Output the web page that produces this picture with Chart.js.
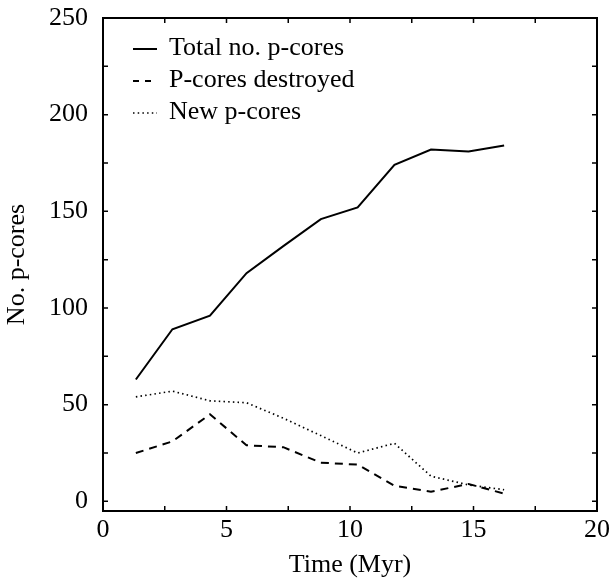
<!DOCTYPE html>
<html>
<head>
<meta charset="utf-8">
<script src="https://cdn.jsdelivr.net/npm/chart.js@4.4.0/dist/chart.umd.min.js"></script>
<style>
  html, body { margin: 0; padding: 0; background: #fff; }
  #wrap { width: 612px; height: 582px; }
</style>
</head>
<body>
<div id="wrap"><canvas id="c" width="612" height="582"></canvas></div>
<script>
const times = [1.33, 2.81, 4.33, 5.81, 7.3, 8.82, 10.31, 11.8, 13.28, 14.8, 16.24];
const totalCores = [63, 89, 96, 118, 132, 146, 152, 174, 182, 181, 184];
const destroyedCores = [25, 31, 45, 29, 28, 20, 19, 8, 5, 9, 4];
const newCores = [54, 57, 52, 51, 43, 34, 25, 30, 13, 8.5, 6];
const seriesLabels = ['Total no. p-cores', 'P-cores destroyed', 'New p-cores'];
const xTicks = [0, 2.5, 5, 7.5, 10, 12.5, 15, 17.5, 20];
const xLabelTicks = [0, 5, 10, 15, 20];
const yTicks = [0, 25, 50, 75, 100, 125, 150, 175, 200, 225, 250];
const yLabelTicks = [0, 50, 100, 150, 200, 250];

const FONT = "'Liberation Serif', 'Times New Roman', serif";
const FS = 26;

function pts(vals) { return times.map((t, i) => ({ x: t, y: vals[i] })); }

const framePlugin = {
  id: 'frame',
  beforeDraw(chart) {
    const ctx = chart.ctx;
    ctx.save();
    ctx.fillStyle = '#fff';
    ctx.fillRect(0, 0, chart.width, chart.height);
    ctx.restore();
  },
  afterDatasetsDraw(chart) {
    const ctx = chart.ctx;
    const a = chart.chartArea;
    const xs = chart.scales.x, ys = chart.scales.y;
    ctx.save();
    ctx.strokeStyle = '#000';
    ctx.lineWidth = 2;
    ctx.setLineDash([]);
    ctx.strokeRect(a.left, a.top, a.right - a.left, a.bottom - a.top);
    const L = 5;
    ctx.lineWidth = 1.5;
    ctx.beginPath();
    xTicks.forEach(v => {
      const px = xs.getPixelForValue(v);
      ctx.moveTo(px, a.bottom); ctx.lineTo(px, a.bottom - L);
      ctx.moveTo(px, a.top); ctx.lineTo(px, a.top + L);
    });
    yTicks.forEach(v => {
      const py = ys.getPixelForValue(v);
      ctx.moveTo(a.left, py); ctx.lineTo(a.left + L, py);
      ctx.moveTo(a.right, py); ctx.lineTo(a.right - L, py);
    });
    ctx.stroke();

    // legend inside plot
    const rows = [48, 80, 112];
    ctx.font = FS + 'px ' + FONT;
    ctx.textBaseline = 'middle';
    ctx.textAlign = 'left';
    ctx.fillStyle = '#000';
    chart.data.datasets.forEach((ds, i) => {
      const y = rows[i];
      ctx.beginPath();
      ctx.lineWidth = ds.borderWidth;
      ctx.setLineDash(ds.legendDash);
      ctx.moveTo(133, y + 1);
      ctx.lineTo(157, y + 1);
      ctx.stroke();
      ctx.setLineDash([]);
      ctx.fillText(ds.label, 169, y);
    });
    ctx.restore();
  }
};

new Chart(document.getElementById('c'), {
  type: 'line',
  data: {
    datasets: [
      { label: seriesLabels[0], data: pts(totalCores), borderColor: '#000', borderWidth: 2, borderDash: [], legendDash: [], pointRadius: 0, tension: 0, fill: false },
      { label: seriesLabels[1], data: pts(destroyedCores), borderColor: '#000', borderWidth: 2, borderDash: [8, 6], legendDash: [6, 6], pointRadius: 0, tension: 0, fill: false },
      { label: seriesLabels[2], data: pts(newCores), borderColor: '#000', borderWidth: 1.7, borderDash: [1.5, 3.2], legendDash: [1.5, 3.2], pointRadius: 0, tension: 0, fill: false }
    ]
  },
  options: {
    responsive: false,
    animation: false,
    devicePixelRatio: 1,
    layout: { padding: { top: 18, right: 15, left: 0, bottom: 0 } },
    plugins: { legend: { display: false }, tooltip: { enabled: false } },
    scales: {
      x: {
        type: 'linear', min: 0, max: 20,
        afterBuildTicks(s) { s.ticks = xLabelTicks.map(v => ({ value: v })); },
        afterFit(s) { s.height = 71; s.paddingLeft = 0; s.paddingRight = 0; s.paddingTop = 0; s.paddingBottom = 0; },
        grid: { display: false, drawTicks: false },
        border: { display: false },
        ticks: { color: '#000', font: { family: FONT, size: FS }, padding: 4, maxRotation: 0, callback: v => String(v) },
        title: { display: true, text: 'Time (Myr)', color: '#000', font: { family: FONT, size: FS }, padding: { top: 0, bottom: 1 } }
      },
      y: {
        type: 'linear', min: -5, max: 250,
        afterBuildTicks(s) { s.ticks = yLabelTicks.map(v => ({ value: v })); },
        afterFit(s) { s.width = 103; s.paddingLeft = 0; s.paddingRight = 0; s.paddingTop = 0; s.paddingBottom = 0; },
        grid: { display: false, drawTicks: false },
        border: { display: false },
        ticks: { color: '#000', font: { family: FONT, size: FS }, padding: 15, callback: v => String(v) },
        title: { display: true, text: 'No. p-cores', color: '#000', font: { family: FONT, size: FS }, padding: { top: 2, bottom: 0 } }
      }
    }
  },
  plugins: [framePlugin]
});
</script>
</body>
</html>
